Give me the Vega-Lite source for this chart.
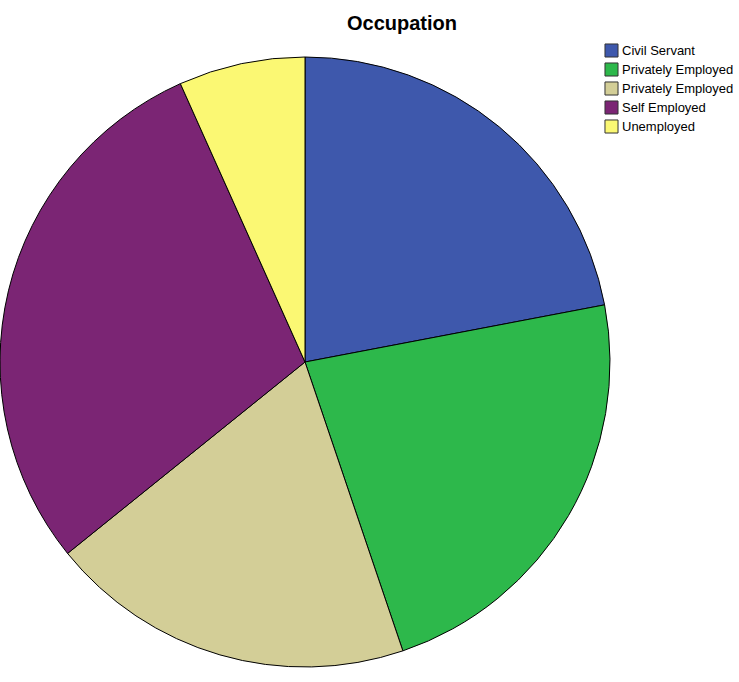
{
  "$schema": "https://vega.github.io/schema/vega-lite/v6.json",
  "autosize": "none",
  "width": 610,
  "height": 644,
  "padding": {"top": 40, "left": 0, "right": 129, "bottom": 0},
  "background": "white",
  "title": {
    "text": "Occupation",
    "font": "Liberation Sans",
    "fontSize": 20,
    "fontWeight": "bold",
    "color": "black",
    "anchor": "middle",
    "dx": 97,
    "offset": 6
  },
  "data": {
    "values": [
      {"occupation": "Civil Servant", "pct": 22.0, "ord": 1},
      {"occupation": "Privately Employed", "pct": 22.8, "ord": 2},
      {"occupation": "Privately Employed ", "pct": 19.4, "ord": 3},
      {"occupation": "Self Employed", "pct": 29.1, "ord": 4},
      {"occupation": "Unemployed", "pct": 6.7, "ord": 5}
    ]
  },
  "mark": {"type": "arc", "outerRadius": 305, "stroke": "black", "strokeWidth": 1},
  "encoding": {
    "theta": {"field": "pct", "type": "quantitative", "stack": true},
    "order": {"field": "ord", "type": "quantitative"},
    "color": {
      "field": "occupation",
      "type": "nominal",
      "sort": ["Civil Servant", "Privately Employed", "Privately Employed ", "Self Employed", "Unemployed"],
      "scale": {
        "domain": ["Civil Servant", "Privately Employed", "Privately Employed ", "Self Employed", "Unemployed"],
        "range": ["#3e58ac", "#2db84b", "#d3ce97", "#7b2574", "#fbf873"]
      },
      "legend": {
        "title": null,
        "orient": "none",
        "legendX": 604,
        "legendY": 3,
        "symbolType": "square",
        "symbolSize": 170,
        "symbolStrokeColor": "#333333",
        "symbolStrokeWidth": 1,
        "symbolOpacity": 1,
        "labelFont": "Liberation Sans",
        "labelFontSize": 13,
        "labelColor": "black",
        "labelOffset": 3,
        "rowPadding": 0
      }
    }
  },
  "config": {"view": {"stroke": null}}
}
